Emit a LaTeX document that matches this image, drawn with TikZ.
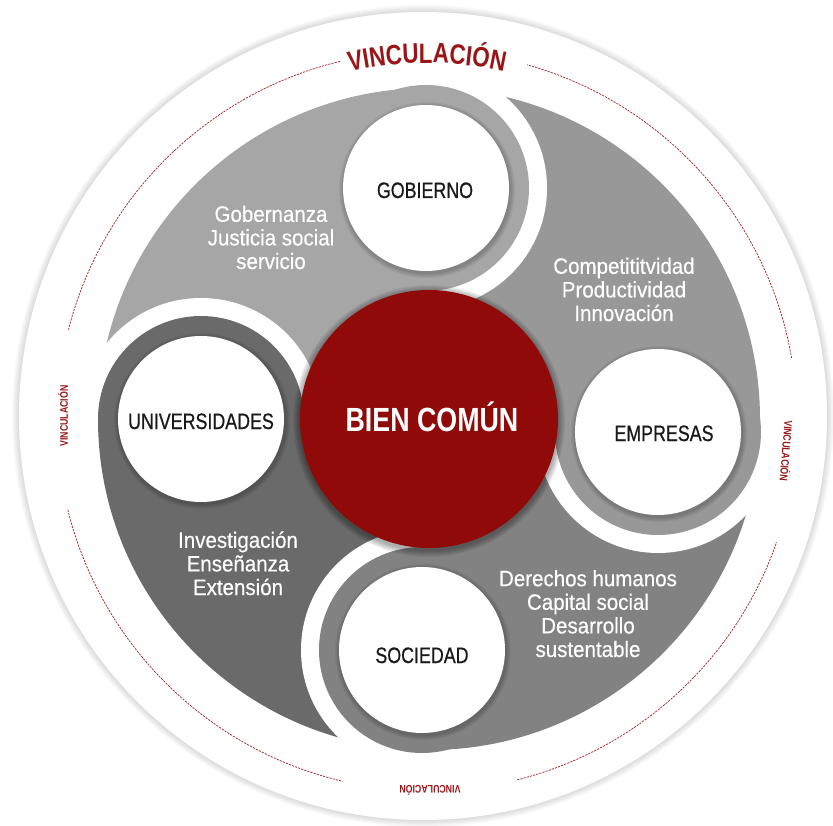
\documentclass[tikz,border=0pt]{standalone}
\usepackage{fontspec}
\setmainfont{Liberation Sans}
\newfontfamily\capsfont{Liberation Sans}[FakeStretch=0.8]
\newfontfamily\satfont{Liberation Sans}[FakeStretch=0.8, FakeBold=0.6]
\newfontfamily\txtfont{Liberation Sans}[FakeStretch=0.92, FakeBold=0.4]
\usetikzlibrary{decorations.text,calc}
\definecolor{gTL}{HTML}{A6A6A6}
\definecolor{gTR}{HTML}{989898}
\definecolor{gBR}{HTML}{828282}
\definecolor{gBL}{HTML}{6A6A6A}
\definecolor{bred}{HTML}{900A0A}
\definecolor{lred}{HTML}{9A1518}
\definecolor{dred}{HTML}{A82A2E}
\tikzset{
  satlabel/.style={font=\satfont\fontsize{22.3}{24}\selectfont, text=black!90, anchor=base, inner sep=0pt},
  sectext/.style={font=\txtfont\fontsize{22.3}{23.6}\selectfont, text=white, align=center, anchor=base, inner sep=0pt},
  vsmall/.style={font=\capsfont\bfseries\fontsize{11}{11}\selectfont, text=lred, inner sep=0pt},
  dasharc/.style={draw=dred, line width=0.75pt, dash pattern=on 2.2pt off 1.1pt},
  whitedisc/.style={circle, fill=white, minimum size=166pt, inner sep=0pt},
  softshadow/.style={black, opacity=0.045},
}
\begin{document}
\begin{tikzpicture}[x=1pt,y=-1pt]
\useasboundingbox (0,0) rectangle (833,826);
% outer white disc with soft shadow
\foreach \k in {1,...,7} \fill[black,opacity=0.02] (423,416) circle ({404+\k});
\fill[white] (423,416) circle (404);
\coordinate (C) at (429,419);
\coordinate (vc) at (427,421);
% dashed arcs
\draw[dasharc] ($(vc)+(-9.8:370)$) arc[start angle=-9.8, end angle=-74.3, radius=370];
\draw[dasharc] ($(vc)+(-103.6:370)$) arc[start angle=-103.6, end angle=-165.7, radius=370];
\draw[dasharc] ($(vc)+(-193.9:370)$) arc[start angle=-193.9, end angle=-256.8, radius=370];
\draw[dasharc] ($(vc)+(-284.1:370)$) arc[start angle=-284.1, end angle=-340.9, radius=370];
% top curved label
\path[decorate, decoration={text along path, text={|\capsfont\bfseries\fontsize{28}{28}\selectfont|VINCULACIÓN}, text color=lred, text align=center}]
  ($(vc)+(-120:358)$) arc[start angle=-120, end angle=-60, radius=358];
% small labels
\node[vsmall, rotate=90] (vl) at (63,416) {VINCULACIÓN};
\node[vsmall, rotate=-94.7] (vr) at (787,451) {VINCULACIÓN};
\node[vsmall, rotate=180] (vb) at (430,790) {VINCULACIÓN};
% sectors
\fill[gTR] (C) -- ++(0:331) arc[start angle=0, end angle=-90, radius=331] -- cycle;
\fill[gTL] (C) -- ++(-90:331) arc[start angle=-90, end angle=-180, radius=331] -- cycle;
\fill[gBL] (C) -- ++(-180:331) arc[start angle=-180, end angle=-270, radius=331] -- cycle;
\fill[gBR] (C) -- ++(-270:331) arc[start angle=-270, end angle=-360, radius=331] -- cycle;
% satellite centres
\coordinate (G) at (426,188);
\coordinate (E) at (658,432);
\coordinate (S) at (422,650);
\coordinate (U) at (201,419);
% white gaps (clockwise side only)
\begin{scope} \clip (429,0) rectangle (833,826); \fill[white] (G) circle (121); \end{scope}
\begin{scope} \clip (0,419) rectangle (833,826); \fill[white] (E) circle (121); \end{scope}
\begin{scope} \clip (0,0) rectangle (429,826); \fill[white] (S) circle (121); \end{scope}
\begin{scope} \clip (0,0) rectangle (833,419); \fill[white] (U) circle (121); \end{scope}
% rings
\fill[gTL] (G) circle (103);
\fill[gTR] (E) circle (103);
\fill[gBR] (S) circle (103);
\fill[gBL] (U) circle (103);
% soft shadows of white discs
\foreach \p in {G,E,S,U}{
  \foreach \k in {1,...,5} \fill[softshadow] ($(\p)+(1,2)$) circle ({83+\k});
}
\node[whitedisc] (gob) at (G) {};
\node[whitedisc] (emp) at (E) {};
\node[whitedisc] (soc) at (S) {};
\node[whitedisc] (uni) at (U) {};
% red centre with shadow
\foreach \k in {1,...,7} \fill[black,opacity=0.05] ($(C)+(0,2)$) circle ({129+\k});
\node[circle, fill=bred, minimum size=258pt, inner sep=0pt] (bien) at (C) {};
% labels
\node[font=\capsfont\bfseries\fontsize{33.5}{34}\selectfont, text=white, anchor=base, inner sep=0pt] (tbien) at (432,431) {BIEN COMÚN};
\node[satlabel] (lgob) at (425,198) {GOBIERNO};
\node[satlabel] (luni) at (201,429) {UNIVERSIDADES};
\node[satlabel] (lemp) at (664,441) {EMPRESAS};
\node[satlabel] (lsoc) at (422,663) {SOCIEDAD};
% sector texts (anchor = baseline of the last line)
\node[sectext] (tgob) at (271,269) {Gobernanza\\Justicia social\\servicio};
\node[sectext] (temp) at (624,321) {Competititvidad\\Productividad\\Innovación};
\node[sectext] (tuni) at (238,595) {Investigación\\Enseñanza\\Extensión};
\node[sectext] (tsoc) at (588,657) {Derechos humanos\\Capital social\\Desarrollo\\sustentable};
\end{tikzpicture}
\end{document}
